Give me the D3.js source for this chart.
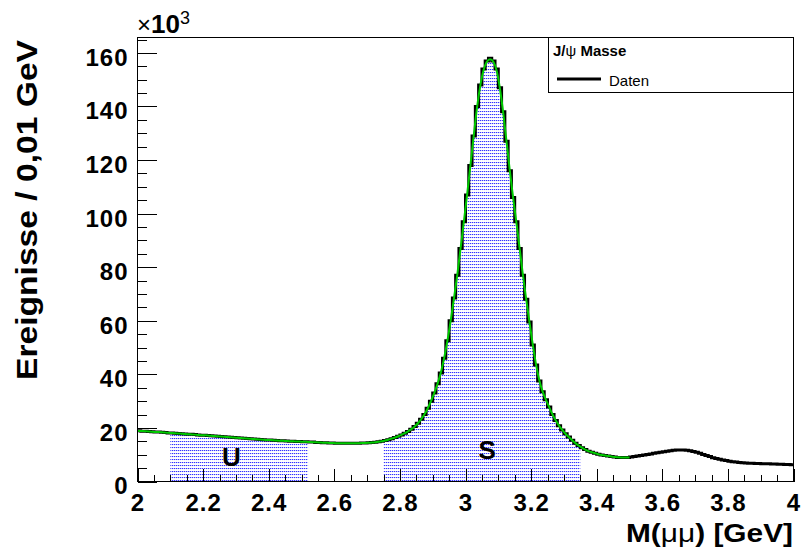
<!DOCTYPE html>
<html>
<head>
<meta charset="utf-8">
<script src="https://cdn.jsdelivr.net/npm/d3@7"></script>
<style>
  html, body { margin: 0; padding: 0; background: #ffffff; }
  svg { display: block; }
  text { font-family: "Liberation Sans", Arial, Helvetica, sans-serif; }
</style>
</head>
<body>
<svg id="chart" width="802" height="555"></svg>
<script>
// Dimuon invariant mass spectrum, events per 0.01 GeV bin (in units of 10^3)
const massMin = 2.0;
const binWidth = 0.01;
const counts = [
  18.9, 18.8, 18.75, 18.7, 18.6, 18.5, 18.45, 18.35, 18.25, 18.15,
  18.1, 18.0, 17.9, 17.85, 17.75, 17.65, 17.6, 17.5, 17.4, 17.3,
  17.25, 17.15, 17.05, 16.95, 16.85, 16.8, 16.7, 16.6, 16.5, 16.4,
  16.3, 16.2, 16.1, 16.05, 15.95, 15.85, 15.75, 15.7, 15.6, 15.5,
  15.45, 15.4, 15.3, 15.25, 15.2, 15.1, 15.05, 15.0, 14.95, 14.9,
  14.85, 14.8, 14.75, 14.7, 14.6, 14.55, 14.5, 14.45, 14.4, 14.35,
  14.3, 14.3, 14.25, 14.25, 14.25, 14.25, 14.3, 14.3, 14.35, 14.4,
  14.45, 14.55, 14.65, 14.8, 15.0, 15.3, 15.6, 16.0, 16.4, 16.9,
  17.4, 18.0, 18.7, 19.5, 20.5, 21.7, 23.2, 25.0, 27.3, 30.0,
  33.0, 36.5, 40.5, 46.0, 52.5, 60.0, 68.5, 77.0, 87.0, 97.0,
  107, 118, 129, 140, 148, 154, 157, 158, 157, 154,
  147, 138, 127, 116, 106, 97, 87, 77, 68, 59.5,
  51, 43.5, 37.5, 33.5, 30.5, 27.8, 25.0, 22.8, 20.8, 19.2,
  17.8, 16.6, 15.4, 14.3, 13.4, 12.6, 11.9, 11.3, 10.9, 10.5,
  10.2, 9.9, 9.7, 9.5, 9.3, 9.15, 9.0, 8.95, 8.95, 9.0,
  9.1, 9.3, 9.5, 9.7, 9.9, 10.1, 10.3, 10.5, 10.7, 10.9,
  11.1, 11.3, 11.5, 11.65, 11.75, 11.8, 11.8, 11.7, 11.5, 11.2,
  10.9, 10.5, 10.1, 9.7, 9.3, 8.9, 8.6, 8.3, 8.0, 7.8,
  7.6, 7.4, 7.25, 7.1, 7.0, 6.9, 6.85, 6.8, 6.75, 6.7,
  6.65, 6.6, 6.6, 6.55, 6.5, 6.45, 6.4, 6.35, 6.3, 6.25
];

// Sideband (U) and signal (S) windows in GeV
const regionNames = ["U", "S"];
const regionLow  = [2.10, 2.75];
const regionHigh = [2.52, 3.35];

// Fit range in GeV
const fitRange = [2.0, 3.5];

// Axis tick labels
const xTickLabels = ["2", "2.2", "2.4", "2.6", "2.8", "3", "3.2", "3.4", "3.6", "3.8", "4"];
const yTickLabels = ["0", "20", "40", "60", "80", "100", "120", "140", "160"];

const legendTitle = "Masse";
const legendEntry = "Daten";

// ---------------------------------------------------------------------------
const svg = d3.select("#chart");
const frame = { left: 137.5, right: 793.5, top: 37.5, bottom: 481.5 };
const FONT_BOLD = 700;

const x = d3.scaleLinear().domain([2, 4]).range([frame.left, frame.right]);
const y = d3.scaleLinear().domain([0, 165.75]).range([frame.bottom, frame.top]);

const bins = counts.map((v, i) => ({
  lo: +(massMin + i * binWidth).toFixed(4),
  hi: +(massMin + (i + 1) * binWidth).toFixed(4),
  v
}));

// dotted fill pattern for the selected windows
const defs = svg.append("defs");
const pat = defs.append("pattern")
  .attr("id", "dots")
  .attr("patternUnits", "userSpaceOnUse")
  .attr("width", 2).attr("height", 3);
pat.append("rect").attr("x", 0).attr("y", 0).attr("width", 1).attr("height", 1).attr("fill", "#3535ff");
pat.append("rect").attr("x", 1).attr("y", 0).attr("width", 1).attr("height", 1).attr("fill", "#c4c4ff");
pat.append("rect").attr("x", 0).attr("y", 1).attr("width", 1).attr("height", 1).attr("fill", "#f2f2ff");

defs.append("clipPath").attr("id", "frameClip")
  .append("rect")
  .attr("x", frame.left).attr("y", frame.top)
  .attr("width", frame.right - frame.left).attr("height", frame.bottom - frame.top);

const plot = svg.append("g").attr("clip-path", "url(#frameClip)");

// shaded windows under the histogram
const area = d3.area()
  .curve(d3.curveStepAfter)
  .x(d => x(d[0]))
  .y0(y(0))
  .y1(d => y(d[1]));

regionNames.forEach((name, k) => {
  const sel = bins.filter(b => b.lo >= regionLow[k] - 1e-6 && b.hi <= regionHigh[k] + 1e-6);
  const pts = sel.map(b => [b.lo, b.v]);
  pts.push([sel[sel.length - 1].hi, sel[sel.length - 1].v]);
  plot.append("path")
    .attr("d", area(pts))
    .attr("fill", "url(#dots)")
    .attr("stroke", "none");
});

// histogram outline
const stepLine = d3.line().curve(d3.curveStepAfter).x(d => x(d[0])).y(d => y(d[1]));
const histPts = bins.map(b => [b.lo, b.v]);
histPts.push([bins[bins.length - 1].hi, bins[bins.length - 1].v]);
plot.append("path")
  .attr("d", stepLine(histPts))
  .attr("fill", "none")
  .attr("stroke", "#000")
  .attr("stroke-width", 3)
  .attr("stroke-linejoin", "miter");

// fit curve over the fit range
const fitBins = bins.filter(b => b.lo >= fitRange[0] - 1e-6 && b.hi <= fitRange[1] + 1e-6);
const fitPts = [[fitRange[0], fitBins[0].v]]
  .concat(fitBins.map(b => [(b.lo + b.hi) / 2, b.v]))
  .concat([[fitRange[1], fitBins[fitBins.length - 1].v]]);
plot.append("path")
  .attr("d", d3.line().curve(d3.curveBasis).x(d => x(d[0])).y(d => y(d[1]))(fitPts))
  .attr("fill", "none")
  .attr("stroke", "#00cc00")
  .attr("stroke-width", 2);

// window labels
svg.append("text")
  .attr("x", x(2.286)).attr("y", y(5.8))
  .attr("text-anchor", "middle")
  .attr("font-size", 26).attr("font-weight", FONT_BOLD)
  .text(regionNames[0]);
svg.append("text")
  .attr("x", x(3.066)).attr("y", y(8.3))
  .attr("text-anchor", "middle")
  .attr("font-size", 26).attr("font-weight", FONT_BOLD)
  .text(regionNames[1]);

// ---------------------------------------------------------------------------
// axes
const yMajor = yTickLabels.map(Number);
const yMinor = d3.range(0, 166, 5).filter(v => !yMajor.includes(v));
const xMajor = xTickLabels.map(Number);
const xMinor = d3.range(0, 41).map(i => 2 + i * 0.05).filter(v => !xMajor.some(m => Math.abs(m - v) < 1e-6));

const yMinorAxis = svg.append("g")
  .attr("transform", `translate(${frame.left},0)`)
  .call(d3.axisLeft(y).tickValues(yMinor).tickSize(-9.5).tickSizeOuter(0).tickFormat(""));
const yMajorAxis = svg.append("g")
  .attr("transform", `translate(${frame.left},0)`)
  .call(d3.axisLeft(y).tickValues(yMajor).tickSize(-19).tickSizeOuter(0).tickPadding(9)
        .tickFormat((d, i) => yTickLabels[i]));
const xMinorAxis = svg.append("g")
  .attr("transform", `translate(0,${frame.bottom})`)
  .call(d3.axisBottom(x).tickValues(xMinor).tickSize(-6.5).tickSizeOuter(0).tickFormat(""));
const xMajorAxis = svg.append("g")
  .attr("transform", `translate(0,${frame.bottom})`)
  .call(d3.axisBottom(x).tickValues(xMajor).tickSize(-13).tickSizeOuter(0).tickPadding(12)
        .tickFormat((d, i) => xTickLabels[i]));

[yMinorAxis, yMajorAxis, xMinorAxis, xMajorAxis].forEach(g => {
  g.select(".domain").remove();
  g.selectAll(".tick line").attr("stroke", "#000").attr("stroke-width", 1).attr("shape-rendering", "crispEdges");
  g.selectAll("text")
    .attr("fill", "#000")
    .attr("font-family", "\"Liberation Sans\", Arial, sans-serif")
    .attr("font-size", 24)
    .attr("font-weight", FONT_BOLD)
    .attr("letter-spacing", 1);
});
yMajorAxis.selectAll("text").attr("dy", "0.52em");
xMajorAxis.selectAll("text").attr("dy", "0.71em");

// frame
svg.append("rect")
  .attr("x", frame.left).attr("y", frame.top)
  .attr("width", frame.right - frame.left).attr("height", frame.bottom - frame.top)
  .attr("fill", "none").attr("stroke", "#000").attr("stroke-width", 1)
  .attr("shape-rendering", "crispEdges");

// exponent marker
const expo = svg.append("text").attr("x", 137).attr("y", 33.3).attr("fill", "#000");
expo.append("tspan").attr("font-size", 24).attr("font-weight", 400).text("\u00d7");
expo.append("tspan").attr("font-size", 26).attr("font-weight", FONT_BOLD).text("10");
expo.append("tspan").attr("font-size", 18).attr("font-weight", 400).attr("dy", -9).text("3");

// axis titles
const xt = svg.append("text")
  .attr("x", 793).attr("y", 541.5)
  .attr("text-anchor", "end")
  .attr("font-size", 25.5).attr("font-weight", FONT_BOLD)
  .attr("textLength", 167).attr("lengthAdjust", "spacingAndGlyphs");
xt.append("tspan").text("M(");
xt.append("tspan").attr("font-weight", 400).text("\u03bc\u03bc");
xt.append("tspan").text(") [GeV]");

svg.append("text")
  .attr("transform", "translate(36.5,40) rotate(-90)")
  .attr("text-anchor", "end")
  .attr("font-size", 29).attr("font-weight", FONT_BOLD)
  .attr("textLength", 340).attr("lengthAdjust", "spacingAndGlyphs")
  .text("Ereignisse / 0,01 GeV");

// legend
const lg = svg.append("g");
lg.append("rect")
  .attr("x", 548.5).attr("y", frame.top)
  .attr("width", 245).attr("height", 55)
  .attr("fill", "#fff").attr("stroke", "#000").attr("stroke-width", 1)
  .attr("shape-rendering", "crispEdges");
const lt = lg.append("text").attr("x", 553).attr("y", 56).attr("font-size", 15).attr("font-weight", FONT_BOLD);
lt.append("tspan").text("J/");
lt.append("tspan").attr("font-weight", 400).text("\u03c8");
lt.append("tspan").text(" " + legendTitle);
lg.append("line")
  .attr("x1", 557).attr("x2", 601).attr("y1", 79).attr("y2", 79)
  .attr("stroke", "#000").attr("stroke-width", 3);
lg.append("text").attr("x", 609).attr("y", 85.5).attr("font-size", 15).text(legendEntry);
</script>
</body>
</html>
